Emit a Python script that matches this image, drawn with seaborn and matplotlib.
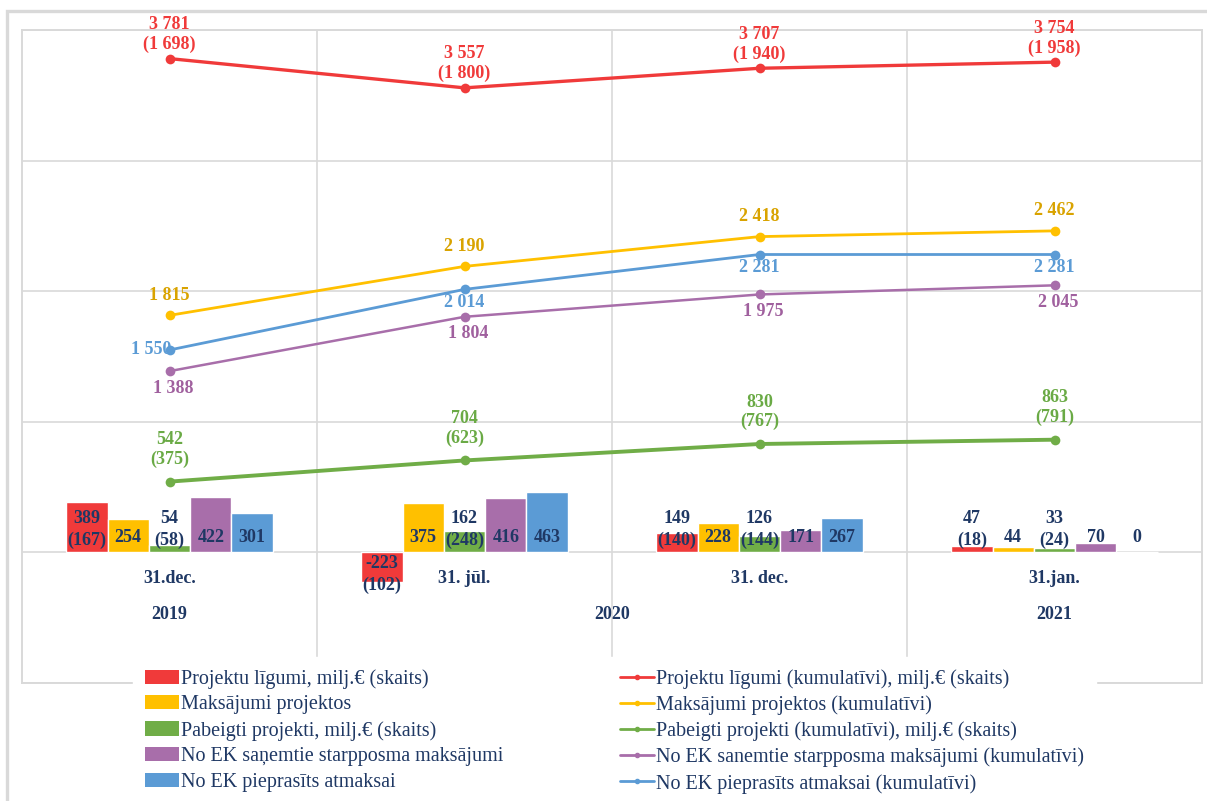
import pandas as pd
import seaborn as sns
import matplotlib.pyplot as plt
from matplotlib.patches import Patch, Rectangle
from matplotlib.lines import Line2D

# Data (milj. EUR, counts in brackets)
dates = ['31.dec.', '31. jūl.', '31. dec.', '31.jan.']
years = ['2019', '2020', '2020', '2021']

bar_names = ['Projektu līgumi, milj.€ (skaits)',
             'Maksājumi projektos',
             'Pabeigti projekti, milj.€ (skaits)',
             'No EK saņemtie starpposma maksājumi',
             'No EK pieprasīts atmaksai']
contracts = [389, -223, 149, 47]
contracts_count = [167, 102, 140, 18]
payments = [254, 375, 228, 44]
finished = [54, 162, 126, 33]
finished_count = [58, 248, 144, 24]
ec_interim = [422, 416, 171, 70]
ec_claimed = [301, 463, 267, 0]

line_names = ['Projektu līgumi (kumulatīvi), milj.€ (skaits)',
              'Maksājumi projektos (kumulatīvi)',
              'Pabeigti projekti (kumulatīvi), milj.€ (skaits)',
              'No EK sanemtie starpposma maksājumi (kumulatīvi)',
              'No EK pieprasīts atmaksai (kumulatīvi)']
contracts_cum = [3781, 3557, 3707, 3754]
contracts_cum_count = [1698, 1800, 1940, 1958]
payments_cum = [1815, 2190, 2418, 2462]
finished_cum = [542, 704, 830, 863]
finished_cum_count = [375, 623, 767, 791]
ec_interim_cum = [1388, 1804, 1975, 2045]
ec_claimed_cum = [1550, 2014, 2281, 2281]

colors = ['#F03A3A', '#FFC000', '#70AD47', '#A86EAA', '#5B9BD5']
label_colors = ['#F03A3A', '#D9A300', '#6AAA45', '#A0609E', '#5B9BD5']
navy = '#1F3864'
grid_c = '#D9D9D9'


def fmt(v):
    return f'{v:,}'.replace(',', ' ')


sns.set_style('white')
plt.rcParams['font.family'] = ['Liberation Serif', 'DejaVu Serif']

fig = plt.figure(figsize=(12.07, 8.01), dpi=100)
ax = fig.add_axes([22 / 1207, 1 - 683 / 801, 1180 / 1207, 653 / 801])

bar_vals = [contracts, payments, finished, ec_interim, ec_claimed]
df = pd.DataFrame({
    'date': [d for _ in bar_names for d in dates],
    'series': [n for n in bar_names for _ in dates],
    'value': [v for vals in bar_vals for v in vals],
})
sns.barplot(data=df, x='date', y='value', hue='series', order=dates,
            hue_order=bar_names, palette=colors, width=0.7, gap=0,
            saturation=1, legend=False, ax=ax, zorder=2)

# bar labels
bar_counts = [contracts_count, None, finished_count, None, None]
for cont, vals, counts in zip(ax.containers, bar_vals, bar_counts):
    for bar, v, c in zip(cont, vals, [None] * 4 if counts is None else counts):
        xc = bar.get_x() + bar.get_width() / 2
        if c is None:
            txt, dy = fmt(v), 15
        else:
            txt, dy = f'{fmt(v)}\n({fmt(c)})', 23 if v >= 0 else -22
        ax.annotate(txt, (xc, 0), xytext=(0, dy), textcoords='offset pixels',
                    ha='center', va='center', fontsize=13, fontweight='bold',
                    color=navy, linespacing=1.35, zorder=6)

# cumulative lines
xpos = list(range(len(dates)))
line_vals = [contracts_cum, payments_cum, finished_cum, ec_interim_cum, ec_claimed_cum]
line_counts = [contracts_cum_count, None, finished_cum_count, None, None]
widths = [2.4, 2, 2.8, 1.8, 2]
offsets = [(0, 24), (0, 20), (0, 32), (4, -17), (0, -13)]
for vals, counts, col, lcol, lw, off in zip(line_vals, line_counts, colors,
                                           label_colors, widths, offsets):
    sns.lineplot(x=xpos, y=vals, color=col, marker='o', markersize=7,
                 markeredgewidth=0, linewidth=lw, ax=ax, legend=False, zorder=4)
    for i, v in enumerate(vals):
        txt = fmt(v) if counts is None else f'{fmt(v)}\n({fmt(counts[i])})'
        dx, dy = off
        ha = 'center'
        if col == colors[4] and i == 0:
            dx, dy, ha = 2, 0, 'right'
        ax.annotate(txt, (i, v), xytext=(dx, dy), textcoords='offset pixels',
                    ha=ha, va='center', fontsize=13, fontweight='bold',
                    color=lcol, linespacing=1.2, zorder=6)

# category / year labels
for i, d in enumerate(dates):
    ax.annotate(d, (i, 0), xytext=(0, -26), textcoords='offset pixels',
                ha='center', va='center', fontsize=13, fontweight='bold', color=navy)
for y in dict.fromkeys(years):
    idx = [i for i, yy in enumerate(years) if yy == y]
    ax.annotate(y, (sum(idx) / len(idx), 0), xytext=(0, -62),
                textcoords='offset pixels', ha='center', va='center',
                fontsize=13, fontweight='bold', color=navy)

ax.set_xlim(-0.5, len(dates) - 0.5)
ax.set_ylim(-1000, 4000)
ax.set_yticks([-1000, 0, 1000, 2000, 3000, 4000])
ax.set_xticks([i + 0.5 for i in range(len(dates) - 1)], minor=True)
ax.set_xticks([])
ax.tick_params(which='both', length=0, labelleft=False, labelbottom=False)
ax.set_xlabel('')
ax.set_ylabel('')
ax.grid(axis='y', color=grid_c, linewidth=1.2, zorder=0)
ax.grid(axis='x', which='minor', color=grid_c, linewidth=1.2, zorder=0)
ax.set_axisbelow(True)
for s in ax.spines.values():
    s.set_color(grid_c)
    s.set_linewidth(1.4)

# outer chart border
fig.add_artist(Rectangle((7 / 1207, -0.2), 1.3, 1.2 - 11 / 801, fill=False,
                         edgecolor=grid_c, linewidth=2.4, transform=fig.transFigure))

handles = [Patch(facecolor=c, edgecolor='none') for c in colors]
handles += [Line2D([0], [0], color=c, linewidth=2, marker='o', markersize=3)
            for c in colors]
leg = fig.legend(handles, bar_names + line_names, ncol=2, loc='upper left',
                 bbox_to_anchor=(133 / 1207, 1 - 657 / 801), frameon=True,
                 facecolor='white', edgecolor='white', framealpha=1,
                 fancybox=False, borderpad=0.6, labelspacing=0.32,
                 handlelength=1.7, handletextpad=0.1, columnspacing=5.75,
                 borderaxespad=0, prop=dict(family='Liberation Serif', size=14.5),
                 labelcolor=navy)

fig.savefig('out.png', dpi=100)
